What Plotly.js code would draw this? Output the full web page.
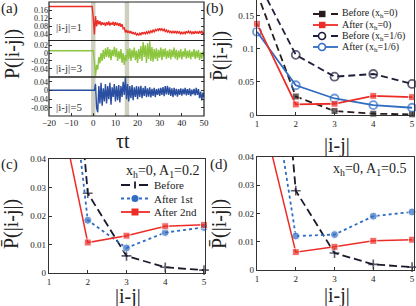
<!DOCTYPE html>
<html><head><meta charset="utf-8">
<script src="https://cdn.plot.ly/plotly-3.0.1.min.js"></script>
<style>html,body{margin:0;padding:0;background:#fff}#p{width:416px;height:306px}</style>
</head><body><div id="p"></div>
<script>
// ---------- Panel (a) data ----------
const tFlat = [-20, -0.5];
const tStart = 0, tStep = 0.5;
const flatP1 = 0.178, flatP3 = 0.006, flatP5 = 0.001;
const p1After = [0.12,0.04,0.13,0.08,0.11,0.09,0.105,0.085,0.1,0.088,
0.098,0.082,0.1,0.086,0.104,0.084,0.097,0.088,0.102,0.083,
0.1,0.085,0.097,0.081,0.095,0.078,0.09,0.068,0.072,0.05,
0.062,0.048,0.058,0.046,0.056,0.043,0.052,0.04,0.048,0.037,
0.044,0.035,0.046,0.039,0.05,0.041,0.052,0.043,0.053,0.045,
0.055,0.047,0.058,0.05,0.061,0.053,0.064,0.056,0.068,0.06,
0.07,0.061,0.068,0.058,0.066,0.055,0.062,0.052,0.058,0.049,
0.056,0.047,0.055,0.046,0.056,0.047,0.057,0.045,0.053,0.043,
0.051,0.042,0.052,0.044,0.055,0.046,0.056,0.047,0.054,0.044,
0.053,0.043,0.056,0.045,0.054,0.044,0.057,0.045,0.058,0.044,
0.05];
const p3After = [0.006,-0.02,-0.058,-0.03,-0.042,-0.01,-0.026,0.0,-0.02,0.008,
-0.015,0.012,-0.01,0.015,-0.012,0.01,-0.018,0.008,-0.008,0.016,
-0.01,0.012,-0.02,0.005,-0.015,0.01,-0.025,0.0,-0.03,-0.005,
-0.02,0.01,-0.015,0.012,-0.02,0.008,-0.012,0.014,-0.018,0.006,
-0.025,0.01,-0.015,0.018,-0.02,0.028,-0.01,0.02,-0.025,0.025,
-0.015,0.03,-0.02,0.015,-0.022,0.01,-0.015,0.012,-0.02,0.008,
-0.012,0.014,-0.018,0.01,-0.01,0.012,-0.015,0.006,-0.012,0.01,
-0.016,0.008,-0.01,0.014,-0.014,0.008,-0.018,0.006,-0.012,0.01,
-0.016,0.005,-0.01,0.012,-0.014,0.006,-0.012,0.008,-0.016,0.004,
-0.01,0.01,-0.015,0.006,-0.012,0.008,-0.018,0.002,-0.014,0.004,
-0.008];
const p5After = [0.001,0.001,0.03,-0.08,-0.1,0.02,-0.06,0.035,-0.07,0.01,
-0.05,0.03,-0.06,0.02,-0.04,0.035,-0.065,0.015,-0.03,0.03,
-0.05,0.02,-0.045,0.025,-0.055,0.02,-0.03,0.04,-0.02,0.06,
-0.04,0.03,-0.05,0.02,-0.035,0.025,-0.045,0.015,-0.03,0.02,
-0.04,0.018,-0.03,0.022,-0.035,0.012,-0.025,0.02,-0.03,0.01,
-0.028,0.015,-0.032,0.008,-0.025,0.012,-0.03,0.006,-0.02,0.01,
-0.025,0.012,-0.02,0.016,-0.026,0.02,-0.018,0.022,-0.02,0.014,
-0.025,0.01,-0.03,0.012,-0.022,0.008,-0.028,0.006,-0.02,0.01,
-0.024,0.008,-0.018,0.012,-0.022,0.006,-0.02,0.01,-0.026,0.004,
-0.018,0.008,-0.022,0.012,-0.02,0.006,-0.035,-0.005,-0.045,-0.01,
-0.03];
const bandStarts = [-1.0, 14.2];
const bandEnds = [1.0, 16.2];
const aXTicks = [-20,-10,0,10,20,30,40,50];
const aY1Ticks = [0.04,0.08,0.12,0.16,0.2];
const aY1Text = ['0.04','0.08','0.12','0.16','0.2'];
const aY3Ticks = [-0.04,-0.02,0,0.02];
const aY3Text = ['-0.04','-0.02','0','0.02'];
const aY5Ticks = [-0.08,-0.04,0,0.04];
const aY5Text = ['-0.08','-0.04','0','0.04'];
const aLabels = ['|i-j|=1','|i-j|=3','|i-j|=5'];

// ---------- Panel (b)-(d) data ----------
const dist = [1,2,3,4,5];
const beforeH0 = [0.185,0.028,0.006,0.002,0.001];
const afterH0 = [0.138,0.016,0.017,0.029,0.027];
const beforeH16 = [0.205,0.091,0.058,0.062,0.047];
const afterH16 = [0.126,0.045,0.025,0.015,0.011];
const cAfter1 = [0.138,0.0185,0.0088,0.0142,0.016];
const cAfter2 = [0.076,0.0107,0.0131,0.0164,0.0169];
const dAfter1 = [0.0995,0.012,0.0125,0.019,0.0205];
const dAfter2 = [0.0625,0.0063,0.0082,0.0103,0.0107];
const bNames = ['Before (x<sub>h</sub>=0)','After (x<sub>h</sub>=0)','Before (x<sub>h</sub>=1/6)','After (x<sub>h</sub>=1/6)'];
const cNames = ['Before','After 1st','After 2nd'];

// ---------- helpers ----------
const W=416,H=306;
const px=x=>x/W, py=y=>1-y/H;
const tPost = p1After.map((_,i)=>tStart+i*tStep);
const tAll = tFlat.concat(tPost);
const serif = 'Liberation Serif';
const RED='#ec2d27', GREEN='#8cc63e', BLUE='#2a4ea0', DARK='#2a1c1c', NAVY='#1d1d3c', LBLUE='#2f6cc3';
const sizes=(ys,max,s)=>ys.map(v=>v>max?0:s);

const traces = [
 {x:tAll,y:[flatP5,flatP5].concat(p5After),xaxis:'x',yaxis:'y',mode:'lines',line:{color:BLUE,width:1.4}},
 {x:tAll,y:[flatP3,flatP3].concat(p3After),xaxis:'x',yaxis:'y2',mode:'lines',line:{color:GREEN,width:1.4}},
 {x:tAll,y:[flatP1,flatP1].concat(p1After),xaxis:'x',yaxis:'y3',mode:'lines',line:{color:RED,width:1.4}},
];
const bMax=0.174, cdMax=0.04;
traces.push(
 {x:dist,y:beforeH16,xaxis:'x4',yaxis:'y4',mode:'lines+markers',cliponaxis:false,line:{color:NAVY,width:1.8,dash:'7px,4px'},marker:{symbol:'circle-open',size:sizes(beforeH16,bMax,8),color:NAVY,line:{width:1.8}}},
 {x:dist,y:beforeH0,xaxis:'x4',yaxis:'y4',mode:'lines+markers',cliponaxis:false,line:{color:DARK,width:1.8,dash:'7px,4px'},marker:{symbol:'square',size:sizes(beforeH0,bMax,7),color:DARK}},
 {x:dist,y:afterH16,xaxis:'x4',yaxis:'y4',mode:'lines+markers',cliponaxis:false,line:{color:LBLUE,width:1.8},marker:{symbol:'circle-open',size:sizes(afterH16,bMax,8),color:LBLUE,line:{width:1.8}}},
 {x:dist,y:afterH0,xaxis:'x4',yaxis:'y4',mode:'lines+markers',cliponaxis:false,line:{color:RED,width:1.8},marker:{symbol:'square',size:sizes(afterH0,bMax,7),color:RED}}
);
[['x5','y5',cAfter1,cAfter2],['x6','y6',dAfter1,dAfter2]].forEach(([xa,ya,a1,a2])=>{
 traces.push(
  {x:dist,y:beforeH0,xaxis:xa,yaxis:ya,mode:'lines+markers',cliponaxis:false,line:{color:'#1a1a2c',width:1.8,dash:'8px,4px'},marker:{symbol:'cross-thin',size:sizes(beforeH0,cdMax,7),line:{color:'#1a1a2c',width:1.6}}},
  {x:dist,y:a1,xaxis:xa,yaxis:ya,mode:'lines+markers',cliponaxis:false,line:{color:LBLUE,width:1.8,dash:'dot'},marker:{symbol:'circle',size:sizes(a1,cdMax,8),color:LBLUE}},
  {x:dist,y:a2,xaxis:xa,yaxis:ya,mode:'lines+markers',cliponaxis:false,line:{color:RED,width:1.5},marker:{symbol:'square',size:sizes(a2,cdMax,7),color:RED}}
 );
});

const tickf = {family:serif,size:9,color:'#222'};
const ax = (o)=>Object.assign({showgrid:false,zeroline:false,ticks:'inside',ticklen:3,tickcolor:'#333',tickfont:tickf,linecolor:'#333',linewidth:1.2,fixedrange:true},o);
const tf8 = {family:serif,size:8,color:'#222'};

const layout = {
 width:W,height:H,margin:{l:0,r:0,t:0,b:0},paper_bgcolor:'#fff',plot_bgcolor:'rgba(0,0,0,0)',
 showlegend:false,font:{family:serif,color:'#222'},
 xaxis: ax({domain:[px(49),px(204)],range:[-20,50],anchor:'y',tickvals:aXTicks,showline:false}),
 yaxis: ax({domain:[py(116),py(77)],range:[-0.117,0.062],anchor:'x',tickvals:aY5Ticks,ticktext:aY5Text,tickfont:tf8,showline:false,mirror:'ticks'}),
 yaxis2: ax({domain:[py(77),py(40.5)],range:[-0.061,0.032],anchor:'x',tickvals:aY3Ticks,ticktext:aY3Text,tickfont:tf8,showline:false,mirror:'ticks'}),
 yaxis3: ax({domain:[py(40.5),py(2)],range:[0.01,0.2],anchor:'x',tickvals:aY1Ticks,ticktext:aY1Text,tickfont:tf8,showline:false,mirror:'ticks'}),
 xaxis4: ax({domain:[px(257),px(414)],range:[1,5.05],anchor:'y4',tickvals:dist,showline:true}),
 yaxis4: ax({domain:[py(115),1],range:[0,bMax],anchor:'x4',tickvals:[0,0.05,0.1,0.15],ticktext:['0','0.05','0.1','0.15'],showline:true,mirror:true}),
 xaxis5: ax({domain:[px(49),px(205)],range:[1,5.026],anchor:'y5',tickvals:dist,showline:true,mirror:true}),
 yaxis5: ax({domain:[py(273),py(159)],range:[0,cdMax],anchor:'x5',tickvals:[0,0.01,0.02,0.03,0.04],ticktext:['0','0.01','0.02','0.03','0.04'],showline:true,mirror:true}),
 xaxis6: ax({domain:[px(257),px(414)],range:[1,5.05],anchor:'y6',tickvals:dist,showline:true,mirror:true}),
 yaxis6: ax({domain:[py(270),py(156.7)],range:[0,cdMax],anchor:'x6',tickvals:[0,0.01,0.02,0.03,0.04],ticktext:['0','0.01','0.02','0.03','0.04'],showline:true,mirror:true}),
 shapes:[],annotations:[]
};
// gray bands in (a)
bandStarts.forEach((b,i)=>layout.shapes.push({type:'rect',xref:'x',yref:'paper',x0:b,x1:bandEnds[i],y0:py(116),y1:py(2),fillcolor:'#cfcfc0',line:{width:0},layer:'below'}));
// frames of (a)
[[2,40.5],[40.5,77],[77,116]].forEach(([a,b])=>layout.shapes.push({type:'rect',xref:'paper',yref:'paper',x0:px(49),x1:px(204),y0:py(b),y1:py(a),line:{color:'#222',width:1.2}}));

const A=(text,x,y,o)=>layout.annotations.push(Object.assign({text,xref:'paper',yref:'paper',x:px(x),y:py(y),xanchor:'center',yanchor:'middle',showarrow:false,font:{family:serif,size:12,color:'#222'}},o||{}));
// panel labels
const lf={family:serif,size:15,color:'#222'};
A('(a)',9,8,{font:lf});
A('(b)',215,8,{font:lf});
A('(c)',9,164,{font:lf});
A('(d)',219,164,{font:lf});
// axis titles
const tf={family:serif,size:20,color:'#222'};
A('P(|i-j|)',12,54,{textangle:-90,font:tf});
A('\u03c4t',123,141,{font:tf});
A('P\u0304(|i-j|)',220,56,{textangle:-90,font:tf});
A('|i-j|',337,145,{font:tf});
A('P\u0304(|i-j|)',12,224,{textangle:-90,font:tf});
A('|i-j|',128,296,{font:tf});
A('P\u0304(|i-j|)',220,224,{textangle:-90,font:tf});
A('|i-j|',337,295,{font:tf});
// (a) sub-labels
[27,68,107].forEach((y,i)=>A(aLabels[i],54,y,{xanchor:'left',font:{family:serif,size:11,color:'#333'}}));
// (c),(d) condition text
A('x<sub>h</sub>=0, A<sub>1</sub>=0.2',201,171,{xanchor:'right',font:{family:serif,size:14,color:'#222'}});
A('x<sub>h</sub>=0, A<sub>1</sub>=0.5',408,169,{xanchor:'right',font:{family:serif,size:14,color:'#222'}});

// legend (b)
const bStyles=[{c:DARK,d:'dash',m:'sq'},{c:RED,d:'solid',m:'sq'},{c:NAVY,d:'dash',m:'oc'},{c:LBLUE,d:'solid',m:'oc'}];
[14,25,36,47].forEach((y,i)=>{
 const s=bStyles[i];
 layout.shapes.push({type:'line',xref:'paper',yref:'paper',x0:px(313),x1:px(338),y0:py(y),y1:py(y),line:{color:s.c,width:1.8,dash:s.d}});
 if(s.m==='sq') layout.shapes.push({type:'rect',xref:'paper',yref:'paper',x0:px(319),x1:px(325.5),y0:py(y+3.2),y1:py(y-3.2),fillcolor:s.c,line:{width:0}});
 else layout.shapes.push({type:'circle',xref:'paper',yref:'paper',x0:px(318.5),x1:px(325.5),y0:py(y+3.5),y1:py(y-3.5),fillcolor:'#fff',line:{color:s.c,width:1.6}});
 A(bNames[i],340,y,{xanchor:'left',font:{family:serif,size:10,color:'#222'}});
});
// legend (c)
const cStyles=[{c:'#1a1a2c',d:'dash',m:'x'},{c:LBLUE,d:'dot',m:'ci'},{c:RED,d:'solid',m:'sq'}];
[185,198.5,212].forEach((y,i)=>{
 const s=cStyles[i];
 layout.shapes.push({type:'line',xref:'paper',yref:'paper',x0:px(121),x1:px(150),y0:py(y),y1:py(y),line:{color:s.c,width:1.8,dash:s.d}});
 if(s.m==='x'){layout.shapes.push({type:'line',xref:'paper',yref:'paper',x0:px(135),x1:px(135),y0:py(y+3.5),y1:py(y-3.5),line:{color:s.c,width:1.8}});}
 else if(s.m==='ci') layout.shapes.push({type:'circle',xref:'paper',yref:'paper',x0:px(131.5),x1:px(138.5),y0:py(y+3.5),y1:py(y-3.5),fillcolor:s.c,line:{width:0}});
 else layout.shapes.push({type:'rect',xref:'paper',yref:'paper',x0:px(131.5),x1:px(138.5),y0:py(y+3.5),y1:py(y-3.5),fillcolor:s.c,line:{width:0}});
 A(cNames[i],152,y,{xanchor:'left',font:{family:serif,size:11,color:'#222'}});
});

Plotly.newPlot('p',traces,layout,{displayModeBar:false,staticPlot:true});
</script></body></html>
